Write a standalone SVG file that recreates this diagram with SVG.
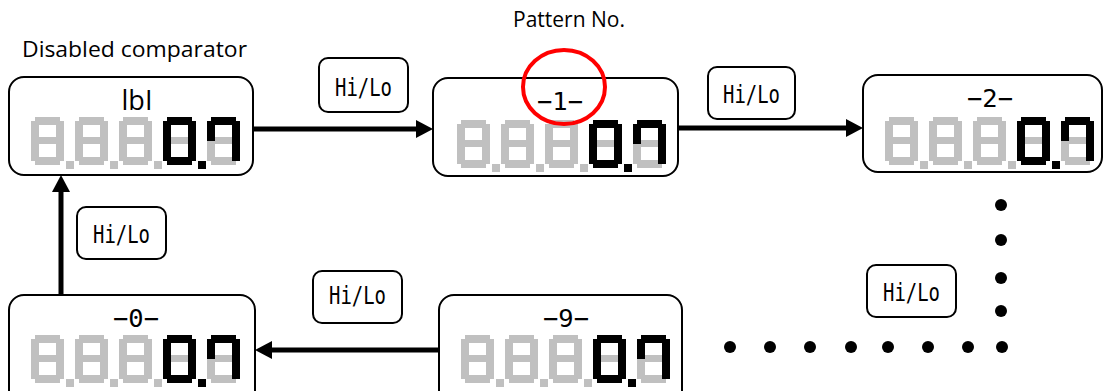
<svg xmlns="http://www.w3.org/2000/svg" xmlns:xlink="http://www.w3.org/1999/xlink" width="1104" height="391" viewBox="0 0 1104 391">
<style>
.node{fill:#fff;stroke:#000;stroke-width:2}
.lbl{fill:#fff;stroke:#000;stroke-width:2}
.mono{font-family:"DejaVu Sans Mono","Liberation Mono",monospace;fill:#000}
.sans{font-family:"Open Sans","Liberation Sans",sans-serif;fill:#000}
.g{fill:#c0c0c0}
.k{fill:#000}
.conn{stroke:#000;stroke-width:5;fill:none}
</style>
<defs>
<marker id="ah" markerUnits="userSpaceOnUse" markerWidth="17" markerHeight="18" refX="9" refY="9" orient="auto">
<path d="M0,0 L17,9 L0,18 z" fill="#000"/>
</marker>
<g id="eight">
<rect x="4" y="0" width="25" height="8"/>
<rect x="0" y="4" width="8" height="20"/>
<rect x="25" y="4" width="8" height="20"/>
<rect x="4" y="20" width="25" height="7"/>
<rect x="0" y="24" width="8" height="20"/>
<rect x="25" y="24" width="8" height="20"/>
<rect x="4" y="40" width="25" height="8"/>
</g>
<g id="display">
<use xlink:href="#eight" class="g"/>
<rect class="g" x="35" y="44" width="8" height="8"/>
<use xlink:href="#eight" x="44" class="g"/>
<rect class="g" x="79" y="44" width="8" height="8"/>
<use xlink:href="#eight" x="88" class="g"/>
<rect class="g" x="123" y="44" width="8" height="8"/>
<g transform="translate(132,0)">
<rect class="g" x="4" y="20" width="25" height="7"/>
<rect class="k" x="4" y="0" width="25" height="8"/>
<rect class="k" x="0" y="4" width="8" height="20"/>
<rect class="k" x="25" y="4" width="8" height="20"/>
<rect class="k" x="0" y="24" width="8" height="20"/>
<rect class="k" x="25" y="24" width="8" height="20"/>
<rect class="k" x="4" y="40" width="25" height="8"/>
</g>
<rect class="k" x="167" y="44" width="8" height="8"/>
<g transform="translate(176,0)">
<rect class="g" x="4" y="20" width="25" height="7"/>
<rect class="g" x="0" y="24" width="8" height="20"/>
<rect class="g" x="4" y="40" width="25" height="8"/>
<rect class="k" x="4" y="0" width="25" height="8"/>
<rect class="k" x="0" y="4" width="8" height="20"/>
<rect class="k" x="25" y="4" width="8" height="20"/>
<rect class="k" x="25" y="24" width="8" height="20"/>
</g>
</g>
</defs>

<text class="sans" x="22" y="57" font-size="21" textLength="225" lengthAdjust="spacingAndGlyphs">Disabled comparator</text>
<text class="sans" x="569" y="27" font-size="21" text-anchor="middle">Pattern No.</text>

<g id="connectors">
<line class="conn" x1="253" y1="129" x2="425" y2="129" marker-end="url(#ah)"/>
<line class="conn" x1="678" y1="128" x2="855" y2="128" marker-end="url(#ah)"/>
<line class="conn" x1="61" y1="295" x2="61" y2="183" marker-end="url(#ah)"/>
<line class="conn" x1="439" y1="350" x2="263" y2="350" marker-end="url(#ah)"/>
<g id="dots" fill="#000">
<circle cx="1001" cy="205" r="6"/>
<circle cx="1001" cy="240" r="6"/>
<circle cx="1001" cy="278" r="6"/>
<circle cx="1001" cy="311" r="6"/>
<circle cx="730" cy="347" r="6"/>
<circle cx="770" cy="347" r="6"/>
<circle cx="810" cy="347" r="6"/>
<circle cx="851" cy="347" r="6"/>
<circle cx="888" cy="347" r="6"/>
<circle cx="928" cy="347" r="6"/>
<circle cx="968" cy="347" r="6"/>
<circle cx="1002" cy="347" r="6"/>
</g>
</g>

<g id="node-lbl">
<rect class="node" x="9" y="77" width="244" height="98" rx="15"/>
<text class="sans" x="137" y="110" font-size="27" text-anchor="middle">lbI</text>
<use xlink:href="#display" x="31" y="117"/>
</g>
<g id="node-1">
<rect class="node" x="433" y="78" width="245" height="98" rx="15"/>
<text class="mono" x="560" y="110" font-size="25" text-anchor="middle" textLength="46" lengthAdjust="spacingAndGlyphs">−1−</text>
<use xlink:href="#display" x="457" y="120"/>
</g>
<g id="node-2">
<rect class="node" x="863" y="75" width="239" height="97" rx="15"/>
<text class="mono" x="990" y="107" font-size="25" text-anchor="middle" textLength="46" lengthAdjust="spacingAndGlyphs">−2−</text>
<use xlink:href="#display" x="885" y="117"/>
</g>
<g id="node-0">
<rect class="node" x="9" y="295" width="246" height="110" rx="15"/>
<text class="mono" x="136" y="327" font-size="25" text-anchor="middle" textLength="46" lengthAdjust="spacingAndGlyphs">−0−</text>
<use xlink:href="#display" x="31" y="335"/>
</g>
<g id="node-9">
<rect class="node" x="439" y="295" width="243" height="110" rx="15"/>
<text class="mono" x="566" y="327" font-size="25" text-anchor="middle" textLength="46" lengthAdjust="spacingAndGlyphs">−9−</text>
<use xlink:href="#display" x="461" y="335"/>
</g>

<g id="label-1">
<rect class="lbl" x="319" y="58" width="89" height="54" rx="9"/>
<text class="mono" x="363.5" y="96" font-size="24" text-anchor="middle" textLength="57" lengthAdjust="spacingAndGlyphs">Hi/Lo</text>
</g>
<g id="label-2">
<rect class="lbl" x="708" y="67" width="87" height="52" rx="9"/>
<text class="mono" x="751.5" y="103" font-size="24" text-anchor="middle" textLength="57" lengthAdjust="spacingAndGlyphs">Hi/Lo</text>
</g>
<g id="label-3">
<rect class="lbl" x="77" y="207" width="89" height="52" rx="9"/>
<text class="mono" x="121.5" y="243" font-size="24" text-anchor="middle" textLength="57" lengthAdjust="spacingAndGlyphs">Hi/Lo</text>
</g>
<g id="label-4">
<rect class="lbl" x="313" y="271" width="89" height="52" rx="9"/>
<text class="mono" x="357.5" y="304" font-size="24" text-anchor="middle" textLength="57" lengthAdjust="spacingAndGlyphs">Hi/Lo</text>
</g>
<g id="label-5">
<rect class="lbl" x="867" y="265" width="89" height="52" rx="9"/>
<text class="mono" x="911.5" y="301" font-size="24" text-anchor="middle" textLength="57" lengthAdjust="spacingAndGlyphs">Hi/Lo</text>
</g>

<g id="highlight">
<ellipse cx="564" cy="87" rx="41" ry="37" fill="none" stroke="#ff0000" stroke-width="4"/>
</g>
</svg>
